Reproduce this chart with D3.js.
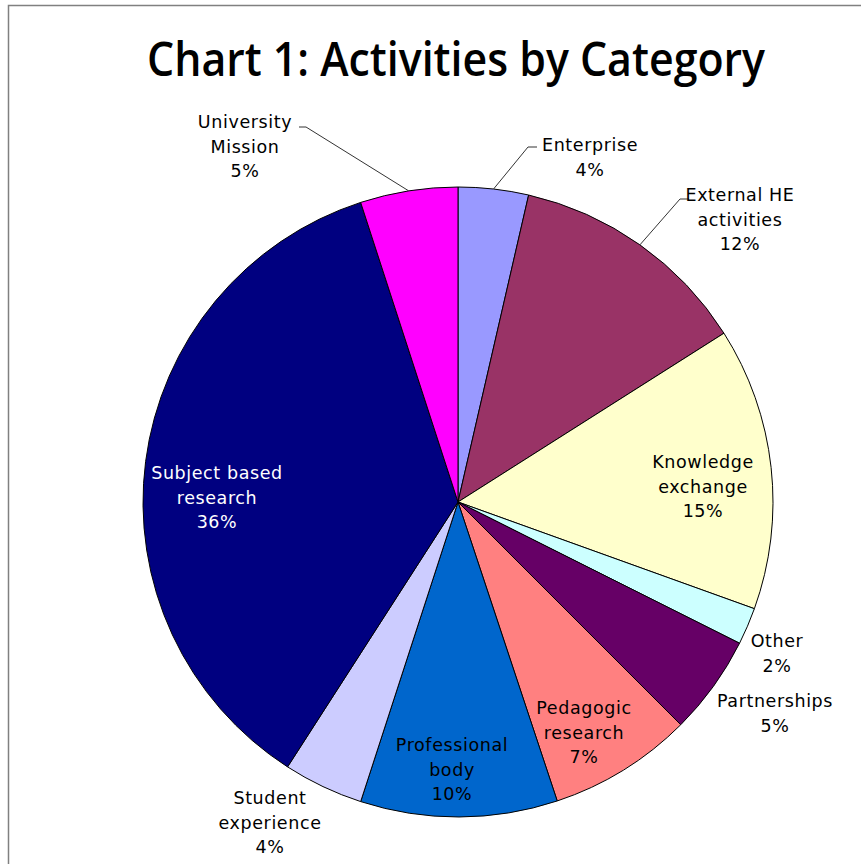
<!DOCTYPE html>
<html><head><meta charset="utf-8">
<script src="https://cdn.jsdelivr.net/npm/d3@7"></script>
<style>body{margin:0;background:#fff}svg{display:block}</style>
</head><body>
<svg id="chart" width="861" height="864"></svg>
<script>
const categories = ["Enterprise","External HE activities","Knowledge exchange","Other","Partnerships","Pedagogic research","Professional body","Student experience","Subject based research","University Mission"];
const values = [3.6,12.4,14.5,1.9,5.1,7.4,10.1,4.1,35.9,5.0];
const colors = ["#9999FF","#993366","#FFFFCC","#CCFFFF","#660066","#FF8080","#0066CC","#CCCCFF","#000080","#FF00FF"];
const labelLines = [["Enterprise"],["External HE","activities"],["Knowledge","exchange"],["Other"],["Partnerships"],["Pedagogic","research"],["Professional","body"],["Student","experience"],["Subject based","research"],["University","Mission"]];
// layout (label anchor positions: center x, first-line baseline y), leader elbow points
const labelPos = [[590,151],[740,201],[703,468],[777,647],[775,707],[584,714],[452,751],[270,804],[217,479],[245,128]];
const leaders = {0:[[528,147],[537,147]],1:[[680,199],[689,199]],9:[[306,127],[299,127]]};

const svg = d3.select("#chart");
svg.append("rect").attr("x",8.5).attr("y",5.5).attr("width",870).attr("height",880)
  .attr("fill","#fff").attr("stroke","#808080").attr("stroke-width",1.5);

svg.append("text").attr("x",456).attr("y",76).attr("text-anchor","middle")
  .attr("font-family","'Open Sans', 'DejaVu Sans', sans-serif").attr("font-weight",600)
  .attr("font-size",47).attr("textLength",618).attr("lengthAdjust","spacingAndGlyphs")
  .attr("fill","#000").text("Chart 1: Activities by Category");

const cx=458, cy=502, r=315;
const data = categories.map((c,i)=>({c,v:values[i],i}));
const pie = d3.pie().value(d=>d.v).sort(null);
const arcs = pie(data);
const arc = d3.arc().innerRadius(0).outerRadius(r);
const g = svg.append("g").attr("transform",`translate(${cx},${cy})`);
g.selectAll("path").data(arcs).join("path").attr("d",arc)
  .attr("fill",d=>colors[d.data.i]).attr("stroke","#000").attr("stroke-width",1);

// leader lines
arcs.forEach(a=>{
  const pts = leaders[a.data.i];
  if(!pts) return;
  const m=(a.startAngle+a.endAngle)/2;
  const p0=[cx+r*Math.sin(m), cy-r*Math.cos(m)];
  svg.append("path").attr("d",d3.line()([p0,...pts])).attr("fill","none")
    .attr("stroke","#333").attr("stroke-width",1);
});

const fmt = v => Math.round(v)+"%";
arcs.forEach(a=>{
  const i=a.data.i;
  const [x,y]=labelPos[i];
  const t=svg.append("text").attr("text-anchor","middle")
    .attr("font-family","'DejaVu Sans', Verdana, sans-serif").attr("font-size",17.5)
    .attr("letter-spacing","0.6px")
    .attr("fill", i===8 ? "#fff" : "#000");
  const lines=[...labelLines[i], fmt(a.data.v)];
  lines.forEach((l,k)=>t.append("tspan").attr("x",x).attr("y",y+k*24.5).text(l));
});
</script>
</body></html>
